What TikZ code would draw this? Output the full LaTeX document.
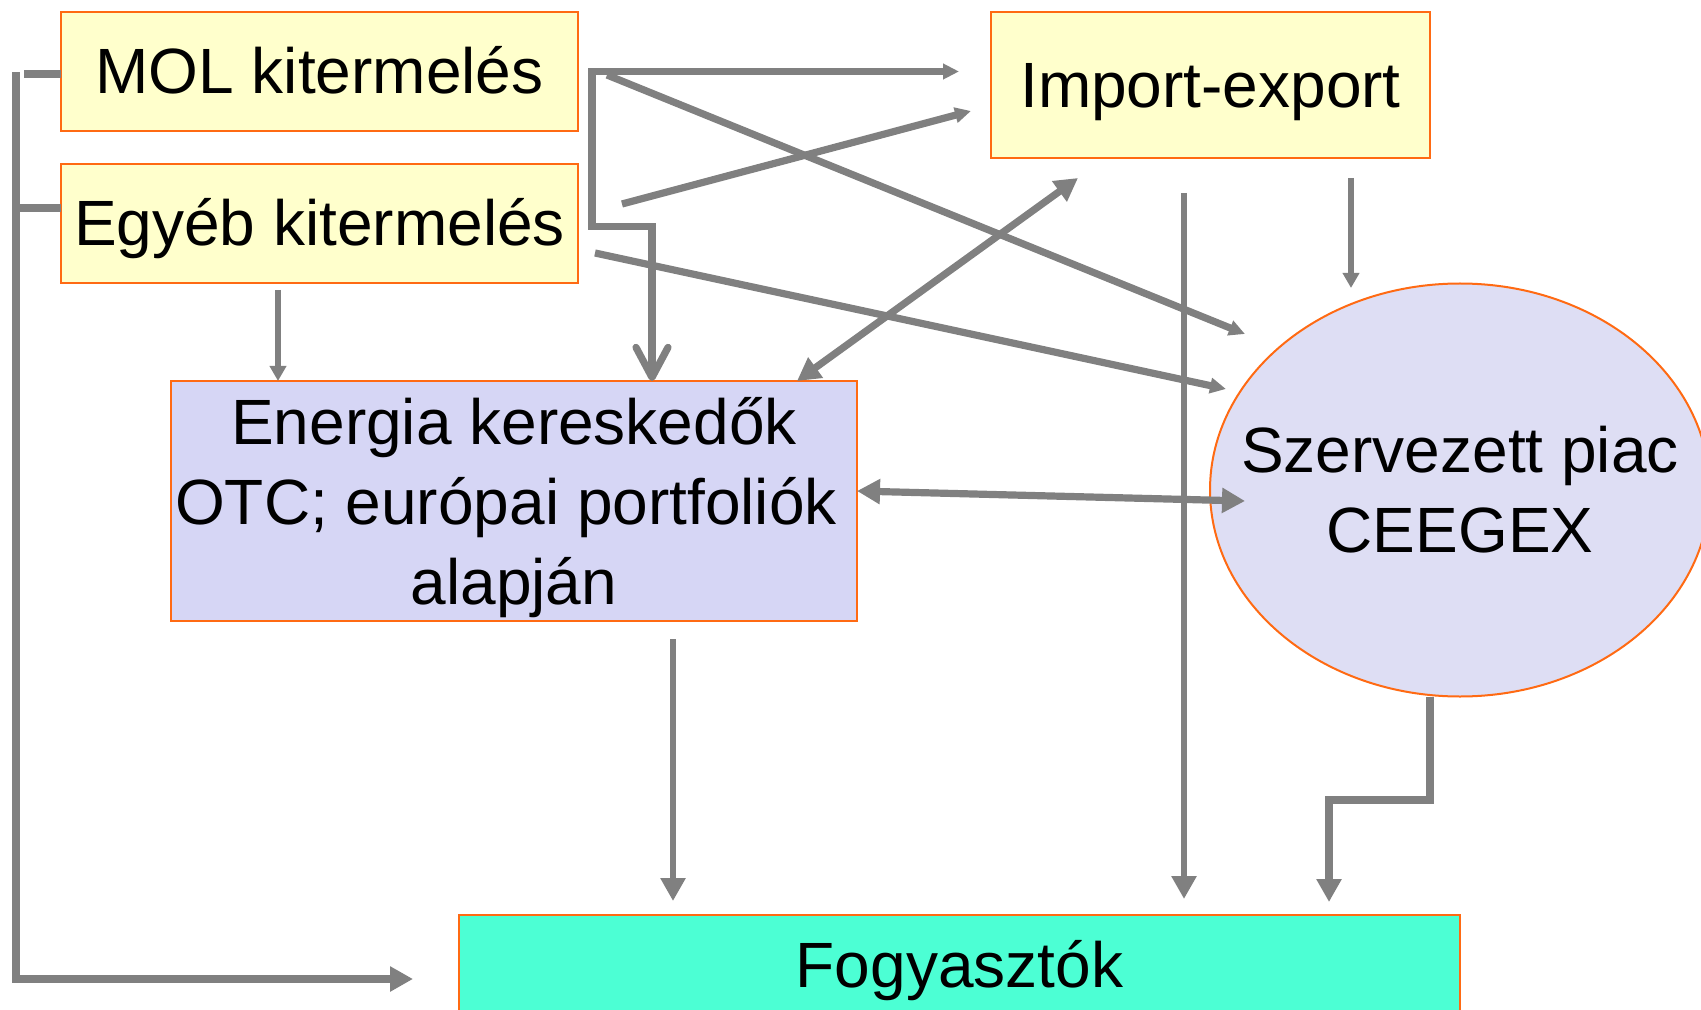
\documentclass[tikz,border=0pt]{standalone}
\usepackage{fontspec}
\setmainfont{Liberation Sans}
\usetikzlibrary{arrows.meta,shapes.geometric}
\definecolor{boxyellow}{HTML}{FFFFCC}
\definecolor{boxorange}{HTML}{FF6A13}
\definecolor{lavbox}{HTML}{D6D6F5}
\definecolor{lavell}{HTML}{DEDEF4}
\definecolor{aquabox}{HTML}{4CFFD4}
\definecolor{linegray}{HTML}{808080}
\tikzset{
  box/.style={draw=boxorange, line width=1pt, inner sep=0pt, outer sep=0pt,
    font=\fontsize{32}{40}\selectfont},
  oneline/.style={text height=22.5pt, text depth=0pt},
  ln/.style={draw=linegray, line width=3.6pt},
  lnmid/.style={draw=linegray, line width=3.2pt},
  lnthin/.style={draw=linegray, line width=2.6pt},
  bighead/.style={-{Triangle[length=11.5pt,width=12pt]}},
  bigboth/.style={{Triangle[length=11.5pt,width=12pt]}-{Triangle[length=11.5pt,width=12pt]}},
  medhead/.style={-{Triangle[length=8pt,width=7.5pt]}},
  smallhead/.style={-{Triangle[length=7.5pt,width=8pt]}},
  barbhead/.style={-{Straight Barb[length=15pt,width=16pt,round]}},
}
\begin{document}
\begin{tikzpicture}[x=0.5pt,y=-0.5pt]
\useasboundingbox (0,0) rectangle (1701,1010);
\clip (0,0) rectangle (1701,1010);

% nodes
\node[box, oneline, fill=boxyellow, minimum width=258.5pt, minimum height=59.5pt] (mol) at (319.5,71.5) {MOL kitermelés};
\node[box, oneline, fill=boxyellow, minimum width=258.5pt, minimum height=59.5pt] (egy) at (319.5,223.5) {Egyéb kitermelés};
\node[box, oneline, fill=boxyellow, minimum width=219.5pt, minimum height=73pt] (ie) at (1210.5,85) {Import-export};
\node[box, fill=lavbox, minimum width=343pt, minimum height=120pt, align=center] (en) at (514,501)
  {Energia kereskedők\\OTC; európai portfoliók\makebox[8pt]{}\\\raisebox{0pt}[\height][0pt]{alapján}};
\node[box, ellipse, fill=lavell, inner xsep=-30pt, inner ysep=0pt, minimum width=250pt, minimum height=206.5pt, align=center] (sz) at (1460,490)
  {Szervezett piac\\CEEGEX};
\node[box, oneline, fill=aquabox, minimum width=500.5pt, minimum height=49.5pt] (fo) at (959.5,964.5) {Fogyasztók};

% coordinates
\coordinate (lt) at (16,72);
\coordinate (lb) at (16,979);
\coordinate (lend) at (413,979);
\coordinate (j0) at (592,71.5);
\coordinate (j1) at (652,226.5);
\coordinate (m1) at (607,75);
\coordinate (s1) at (1245,334);
\coordinate (g1) at (622,204);
\coordinate (i1) at (971,111);
\coordinate (g2) at (595,253);
\coordinate (s2) at (1226,389);
\coordinate (g3) at (278,290);
\coordinate (i2) at (1078,178);
\coordinate (s3) at (1245,501);
\coordinate (i3) at (1351,178);
\coordinate (s4) at (1351,288);
\coordinate (i4) at (1184,193);
\coordinate (e4) at (673,639);
\coordinate (s5) at (1329,800);

% left loop
\draw[ln, bighead] (lt) -- (lb) -- (lend);
\draw[ln] (mol.west |- 0,74) -- (24,74);
\draw[ln] (egy.west |- 0,208) -- (lt |- 0,208);

% MOL connectors
\draw[ln, medhead, shorten >=16pt] (j0) -- (ie.west |- j0);
\draw[ln, barbhead] (600,71.5) -- (j0) |- (j1) -- (j1 |- en.north);
\draw[ln, medhead] (m1) -- (s1);

% Egyeb connectors
\draw[ln, medhead] (g1) -- (i1);
\draw[ln, medhead] (g2) -- (s2);
\draw[lnthin, smallhead] (g3) -- (g3 |- en.north);

% Energia connectors
\draw[ln, bigboth] ([xshift=141.5pt]en.north) -- (i2);
\draw[ln, bigboth] ([yshift=5pt]en.east) -- (s3);
\draw[lnmid, bighead, shorten >=7pt] (e4) -- (e4 |- fo.north);

% Import-export connectors
\draw[lnthin, smallhead] (i3) -- (s4);
\draw[lnmid, bighead, shorten >=8pt] (i4) -- (i4 |- fo.north);

% Szervezett piac -> Fogyasztok
\draw[ln, bighead, shorten >=6.5pt] ([xshift=-15pt]sz.south) |- (s5) -- (s5 |- fo.north);
\end{tikzpicture}
\end{document}
